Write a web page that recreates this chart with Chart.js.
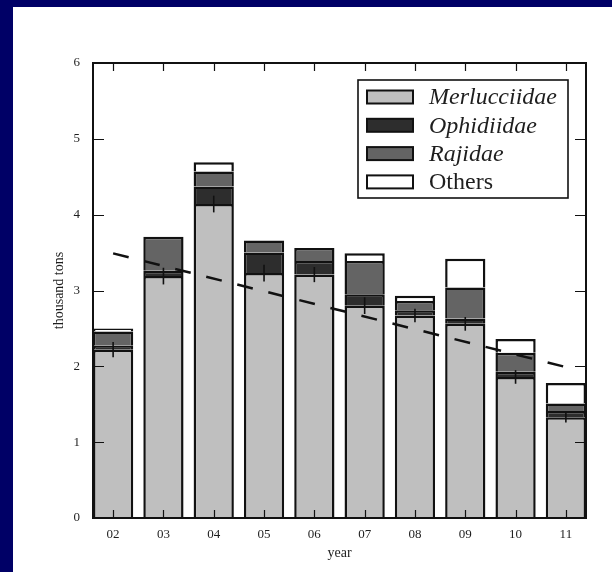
<!DOCTYPE html>
<html>
<head>
<meta charset="utf-8">
<script src="https://cdn.jsdelivr.net/npm/chart.js@4.4.1/dist/chart.umd.min.js"></script>
<style>
  html, body { margin: 0; padding: 0; background: #000066; }
  #sheet { position: absolute; left: 13px; top: 7px; width: 599px; height: 565px; background: #ffffff; }
  #wrap { position: absolute; left: 0; top: 0; width: 612px; height: 572px; }
</style>
</head>
<body>
<div id="sheet"></div>
<div id="wrap"><canvas id="c" width="612" height="572"></canvas></div>
<script>
// Landings by family, thousand tons per year
const years = ['02', '03', '04', '05', '06', '07', '08', '09', '10', '11'];
const merlucciidae = [2.22, 3.19, 4.14, 3.23, 3.21, 2.80, 2.67, 2.56, 1.86, 1.33];
const ophidiidae   = [0.05, 0.07, 0.23, 0.27, 0.18, 0.15, 0.07, 0.07, 0.07, 0.08];
const rajidae      = [0.19, 0.45, 0.20, 0.16, 0.17, 0.44, 0.12, 0.41, 0.25, 0.10];
const others       = [0.04, 0.00, 0.12, 0.00, 0.00, 0.10, 0.07, 0.38, 0.18, 0.27];
const merlucciidaeErr = [0.10, 0.11, 0.11, 0.11, 0.10, 0.11, 0.09, 0.09, 0.09, 0.07];
// Linear trend of the yearly total, given at its two ends
const trendYears  = ['02', '11'];
const trendValues = [3.49, 1.99];
const yMax = 6;

const SERIF = "'Liberation Serif', 'DejaVu Serif', serif";
const INK = '#1e1e1e';

const series = [
  { label: 'Merlucciidae', values: merlucciidae, color: '#bfbfbf', italic: true },
  { label: 'Ophidiidae',   values: ophidiidae,   color: '#2d2d2d', italic: true },
  { label: 'Rajidae',      values: rajidae,      color: '#646464', italic: true },
  { label: 'Others',       values: others,       color: '#ffffff', italic: false }
];

const toPoints = vals => vals.map((v, i) => ({ x: i, y: v }));

const barSets = series.map(s => ({
  type: 'bar',
  label: s.label,
  data: toPoints(s.values),
  backgroundColor: s.color,
  borderColor: '#111111',
  borderWidth: 2.5,
  borderSkipped: 'start',
  stack: 'landings',
  order: 2,
  categoryPercentage: 1.0,
  barPercentage: 0.8
}));

const trendSet = {
  type: 'line',
  label: 'trend',
  data: trendYears.map((y, i) => ({ x: years.indexOf(y), y: trendValues[i] })),
  borderColor: '#111111',
  borderWidth: 2.5,
  borderDash: [16, 16],
  pointRadius: 0,
  fill: false,
  stack: 'trend',
  order: 0
};

// Frame, inward tick marks and error marks on the Merlucciidae tops
const framePlugin = {
  id: 'frame',
  afterDatasetsDraw(chart) {
    const { ctx, chartArea: a, scales: { x, y } } = chart;
    ctx.save();
    ctx.strokeStyle = '#111111';
    // error marks
    ctx.lineWidth = 1.6;
    merlucciidae.forEach((v, i) => {
      const px = x.getPixelForValue(i);
      ctx.beginPath();
      ctx.moveTo(px, y.getPixelForValue(v + merlucciidaeErr[i]));
      ctx.lineTo(px, y.getPixelForValue(v - merlucciidaeErr[i]));
      ctx.stroke();
    });
    // tick marks pointing into the plot
    ctx.lineWidth = 1.2;
    x.ticks.forEach(t => {
      const px = Math.round(x.getPixelForValue(t.value)) + 0.5;
      ctx.beginPath();
      ctx.moveTo(px, a.bottom); ctx.lineTo(px, a.bottom - 8);
      ctx.moveTo(px, a.top); ctx.lineTo(px, a.top + 8);
      ctx.stroke();
    });
    y.ticks.forEach(t => {
      const py = Math.round(y.getPixelForValue(t.value)) + 0.5;
      ctx.beginPath();
      ctx.moveTo(a.left, py); ctx.lineTo(a.left + 11, py);
      ctx.moveTo(a.right, py); ctx.lineTo(a.right - 11, py);
      ctx.stroke();
    });
    ctx.lineWidth = 2;
    ctx.strokeRect(a.left, a.top, a.right - a.left, a.bottom - a.top);
    ctx.restore();
  }
};

// Legend box in the upper right of the plot
const legendPlugin = {
  id: 'boxLegend',
  afterDraw(chart) {
    const { ctx, chartArea: a } = chart;
    const boxW = 210, boxH = 118;
    const bx = a.right - 18 - boxW, by = a.top + 17;
    ctx.save();
    ctx.fillStyle = '#ffffff';
    ctx.fillRect(bx, by, boxW, boxH);
    ctx.strokeStyle = '#111111';
    ctx.lineWidth = 1.6;
    ctx.strokeRect(bx, by, boxW, boxH);
    series.forEach((s, i) => {
      const cy = by + 17 + i * 28.3;
      ctx.fillStyle = s.color;
      ctx.fillRect(bx + 9, cy - 6.5, 46, 13);
      ctx.lineWidth = 2;
      ctx.strokeRect(bx + 9, cy - 6.5, 46, 13);
      ctx.fillStyle = INK;
      ctx.font = (s.italic ? 'italic ' : '') + '24px ' + SERIF;
      ctx.textBaseline = 'middle';
      ctx.textAlign = 'left';
      ctx.fillText(s.label, bx + 71, cy + 1);
    });
    ctx.restore();
  }
};

new Chart(document.getElementById('c'), {
  data: { datasets: [...barSets, trendSet] },
  options: {
    responsive: false,
    animation: false,
    devicePixelRatio: 1,
    layout: { padding: { left: 0, top: 63, right: 26, bottom: 0 } },
    plugins: { legend: { display: false }, tooltip: { enabled: false } },
    scales: {
      x: {
        type: 'linear',
        min: -0.4,
        max: years.length - 0.6,
        offset: false,
        stacked: true,
        grid: { display: false, drawTicks: false },
        border: { display: false },
        ticks: {
          stepSize: 1,
          includeBounds: false,
          autoSkip: false,
          maxRotation: 0,
          padding: 9,
          color: INK,
          font: { family: SERIF, size: 13 },
          callback: v => (Number.isInteger(v) && years[v] !== undefined ? years[v] : '')
        },
        title: {
          display: true, text: 'year', color: INK,
          font: { family: SERIF, size: 14 },
          padding: { top: 0, bottom: 10 }
        },
        afterFit(s) { s.height = 54; }
      },
      y: {
        min: 0,
        max: yMax,
        stacked: true,
        grid: { display: false, drawTicks: false },
        border: { display: false },
        ticks: {
          stepSize: 1,
          padding: 13,
          color: INK,
          font: { family: SERIF, size: 13 }
        },
        title: {
          display: true, text: 'thousand tons', color: INK,
          font: { family: SERIF, size: 14 },
          padding: { top: 51, bottom: 0 }
        },
        afterFit(s) { s.width = 93; }
      }
    }
  },
  plugins: [framePlugin, legendPlugin]
});
</script>
</body>
</html>
